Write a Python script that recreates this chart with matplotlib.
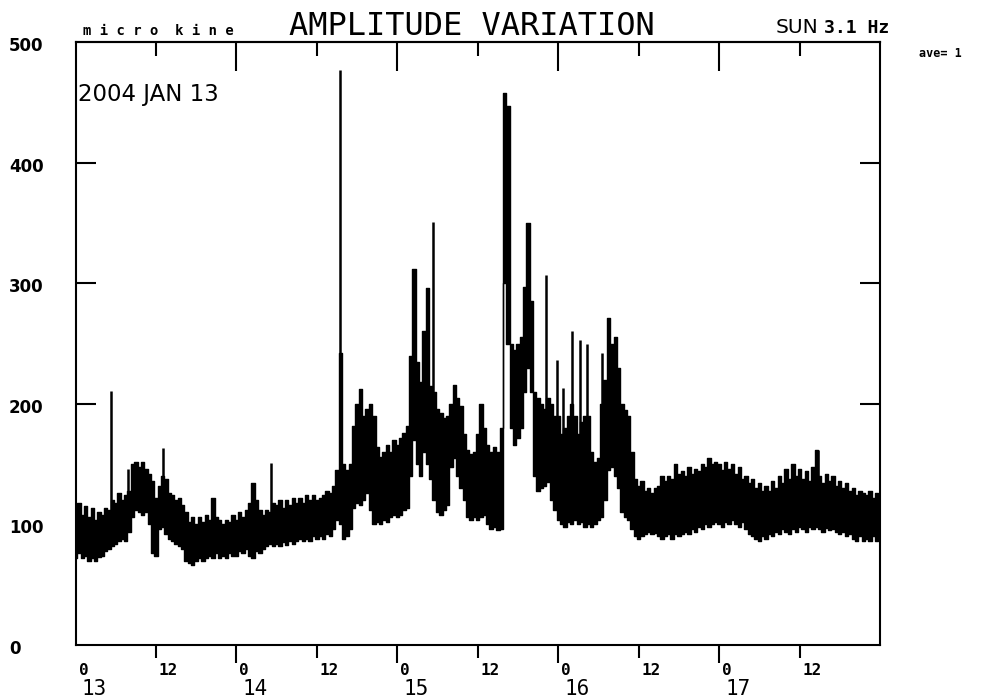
import numpy as np
import matplotlib
matplotlib.use("Agg")
import matplotlib.pyplot as plt
import matplotlib.transforms as mtransforms

# upper / lower edge of the amplitude band (micro kine), every 30 min
upper13 = [112, 118, 108, 115, 106, 114, 104, 110, 108, 114, 112, 120, 118, 126, 120, 124,
           128, 150, 152, 148, 152, 146, 142, 136, 122, 132, 140, 138, 126, 124, 120, 122,
           116, 110, 102, 106, 100, 106, 102, 108, 104, 122, 106, 104, 100, 104, 102, 108]
lower13 = [72, 76, 72, 74, 70, 72, 70, 73, 74, 78, 80, 82, 84, 86, 88, 86,
           94, 106, 112, 110, 108, 110, 100, 76, 74, 96, 98, 92, 88, 86, 84, 82,
           80, 70, 68, 66, 70, 72, 70, 72, 74, 72, 76, 72, 74, 72, 76, 74]
upper14 = [104, 110, 106, 112, 118, 134, 120, 112, 108, 112, 110, 118, 116, 120, 114, 120,
           116, 122, 118, 122, 118, 124, 120, 124, 120, 122, 124, 128, 126, 132, 145, 242,
           150, 145, 150, 182, 200, 212, 190, 196, 200, 190, 164, 156, 160, 166, 160, 170]
lower14 = [74, 78, 76, 80, 74, 72, 78, 76, 80, 82, 84, 82, 84, 82, 85, 83,
           86, 84, 86, 88, 86, 88, 86, 90, 88, 90, 88, 92, 90, 96, 104, 100,
           88, 90, 96, 114, 118, 116, 120, 126, 112, 100, 102, 100, 104, 102, 106, 108]
upper15 = [166, 172, 176, 182, 240, 312, 235, 218, 260, 296, 215, 210, 196, 192, 188, 190,
           200, 216, 205, 198, 175, 162, 158, 160, 175, 200, 180, 166, 160, 164, 160, 180,
           458, 447, 250, 245, 250, 255, 297, 350, 285, 210, 205, 200, 196, 205, 200, 190]
lower15 = [106, 108, 112, 114, 140, 170, 150, 140, 160, 150, 138, 120, 110, 108, 112, 116,
           148, 155, 140, 130, 120, 106, 104, 106, 104, 106, 108, 100, 96, 98, 95, 96,
           300, 250, 180, 166, 172, 180, 210, 230, 210, 140, 128, 130, 132, 135, 120, 112]
upper16 = [190, 175, 180, 190, 200, 190, 175, 185, 190, 190, 160, 152, 155, 200, 220, 271,
           250, 255, 230, 200, 195, 190, 160, 138, 132, 136, 128, 130, 126, 130, 132, 140,
           136, 140, 138, 150, 142, 144, 140, 148, 142, 146, 144, 150, 148, 155, 150, 152]
lower16 = [104, 100, 98, 102, 100, 104, 100, 102, 98, 100, 98, 100, 104, 106, 120, 145,
           148, 140, 130, 110, 106, 104, 96, 90, 88, 90, 92, 94, 92, 93, 90, 88,
           90, 92, 88, 92, 90, 92, 94, 92, 96, 94, 98, 96, 100, 98, 100, 102]
upper17 = [150, 145, 152, 146, 150, 142, 148, 138, 140, 134, 138, 130, 134, 128, 132, 128,
           136, 130, 140, 134, 146, 138, 150, 140, 146, 138, 144, 136, 148, 162, 140, 134,
           142, 136, 140, 132, 136, 130, 134, 128, 130, 124, 128, 126, 124, 128, 122, 126, 120]
lower17 = [100, 98, 102, 100, 104, 100, 98, 102, 96, 92, 90, 88, 86, 90, 88, 92,
           90, 94, 92, 96, 94, 92, 96, 94, 98, 96, 94, 98, 96, 98, 96, 94,
           97, 95, 96, 94, 92, 94, 90, 92, 88, 86, 90, 86, 88, 86, 90, 86, 88]

# narrow spikes standing out of the band: hour, foot, top
spike_hours = [5.3, 7.8, 13.1, 26.4, 29.2, 39.4, 53.3, 70.2, 71.8, 72.7, 74.0, 75.3, 76.3, 78.5, 110.8]
spike_foot = [112, 115, 120, 110, 110, 130, 190, 190, 180, 130, 130, 150, 150, 150, 120]
spike_top = [211, 146, 163, 134, 151, 477, 351, 307, 236, 213, 260, 253, 250, 242, 162]

days = [13, 14, 15, 16, 17]
label_hours = [0, 12, 24, 36, 48, 60, 72, 84, 96, 108]
y_ticks = [0, 100, 200, 300, 400, 500]

upper = np.array(upper13 + upper14 + upper15 + upper16 + upper17, dtype=float)
lower = np.array(lower13 + lower14 + lower15 + lower16 + lower17, dtype=float)
hours = np.arange(len(upper)) * 0.5

W, H = 984, 698
fig = plt.figure(figsize=(W / 100, H / 100), dpi=100)
ax = fig.add_axes([75.5 / W, 1 - 645 / H, (880 - 75.5) / W, (645 - 42) / H])

ax.fill_between(hours, lower, upper, step="mid", color="black", lw=0)
ax.step(hours, upper, where="mid", color="black", lw=1.0)
ax.step(hours, lower, where="mid", color="black", lw=1.0)
ax.vlines(spike_hours, spike_foot, spike_top, color="black", lw=1.8)

ax.set_xlim(0, 120)
ax.set_ylim(0, 500)
for s in ax.spines.values():
    s.set_linewidth(1.5)

# x ticks: out at the bottom, in at the top
ax.set_xticks([h for h in label_hours if h % 24 == 0 and h > 0])
ax.set_xticks([h for h in label_hours if h % 24 == 12], minor=True)
ax.tick_params(axis="x", which="major", direction="out", length=13, width=1.5, labelbottom=False)
ax.tick_params(axis="x", which="minor", direction="out", length=9, width=1.5)
top = ax.secondary_xaxis("top")
top.set_xticks([h for h in label_hours if h % 24 == 0 and h > 0])
top.set_xticks([h for h in label_hours if h % 24 == 12], minor=True)
top.tick_params(which="major", direction="in", length=21, width=1.5, labeltop=False)
top.tick_params(which="minor", direction="in", length=10, width=1.5)
top.spines["top"].set_linewidth(1.5)

ax.set_yticks([v for v in y_ticks if 0 < v < 500])
ax.tick_params(axis="y", direction="in", length=14.5, width=1.5, left=True, right=True, labelleft=False)

# y labels, left aligned near the figure edge
ytrans = mtransforms.blended_transform_factory(fig.transFigure, ax.transData)
ytrans = mtransforms.offset_copy(ytrans, fig=fig, x=0, y=-4, units="dots")
for v in y_ticks:
    ax.text(9 / W, v, str(v), transform=ytrans, ha="left", va="center",
            fontsize=12, fontweight="bold", family="DejaVu Sans", clip_on=False)

# hour and day labels under the axis
htrans = mtransforms.offset_copy(
    mtransforms.blended_transform_factory(ax.transData, fig.transFigure),
    fig=fig, x=3, y=0, units="dots")
for h in label_hours:
    ax.text(h, 1 - 675 / H, str(h % 24), transform=htrans, ha="left", va="baseline",
            fontsize=11.5, fontweight="bold", family="DejaVu Sans Mono", clip_on=False)
dtrans = mtransforms.offset_copy(
    mtransforms.blended_transform_factory(ax.transData, fig.transFigure),
    fig=fig, x=6, y=0, units="dots")
for i, d in enumerate(days):
    ax.text(i * 24, 1 - 695 / H, str(d), transform=dtrans, ha="left", va="baseline",
            fontsize=15, family="DejaVu Sans Mono", clip_on=False)

# header texts
fig.text(472 / W, 1 - 35 / H, "AMPLITUDE VARIATION", ha="center", va="baseline",
         fontsize=23, family="DejaVu Sans Mono")
fig.text(83 / W, 1 - 35 / H, "m i c r o  k i n e", ha="left", va="baseline",
         fontsize=10, fontweight="bold", family="DejaVu Sans Mono")
fig.text(776 / W, 1 - 33 / H, "SUN", ha="left", va="baseline", fontsize=14.5,
         family="DejaVu Sans")
fig.text(824 / W, 1 - 33 / H, "3.1 Hz", ha="left", va="baseline", fontsize=13,
         fontweight="bold", family="DejaVu Sans Mono")
fig.text(919 / W, 1 - 57 / H, "ave= 1", ha="left", va="baseline", fontsize=8.5,
         fontweight="bold", family="DejaVu Sans Mono")
fig.text(78 / W, 1 - 101 / H, "2004 JAN 13", ha="left", va="baseline", fontsize=16.5,
         family="DejaVu Sans")

fig.savefig("out.png", dpi=100)
